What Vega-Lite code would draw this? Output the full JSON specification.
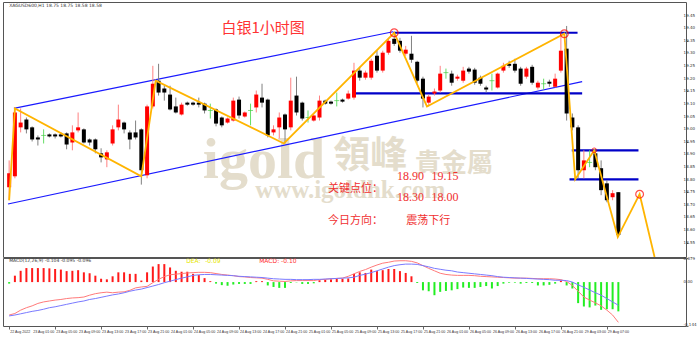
{
 "$schema": "https://vega.github.io/schema/vega-lite/v6.json",
 "padding": {"left": 2, "top": 1, "right": 0, "bottom": 0},
 "background": "white",
 "spacing": 1,
 "bounds": "flush",
 "config": {"view": {"stroke": "#555555", "strokeWidth": 1}, "axis": {"labelFont": "DejaVu Sans", "labelColor": "#333333", "tickColor": "#666666", "domainColor": "#666666", "grid": false}},
 "datasets": {
  "bars": [
{"i":0,"o":18.770,"h":18.876,"l":18.718,"c":18.825,"m":-0.005,"dif":-0.108,"dea":-0.111},
{"i":1,"o":18.813,"h":19.086,"l":18.805,"c":19.066,"m":0.021,"dif":-0.103,"dea":-0.108},
{"i":2,"o":19.007,"h":19.082,"l":18.987,"c":19.026,"m":0.037,"dif":-0.092,"dea":-0.104},
{"i":3,"o":19.038,"h":19.046,"l":18.983,"c":18.999,"m":0.046,"dif":-0.084,"dea":-0.100},
{"i":4,"o":19.007,"h":19.011,"l":18.951,"c":18.959,"m":0.046,"dif":-0.078,"dea":-0.096},
{"i":5,"o":18.967,"h":18.975,"l":18.935,"c":18.959,"m":0.046,"dif":-0.070,"dea":-0.093},
{"i":6,"o":18.975,"h":18.999,"l":18.943,"c":18.975,"m":0.046,"dif":-0.065,"dea":-0.089},
{"i":7,"o":18.979,"h":18.983,"l":18.967,"c":18.971,"m":0.045,"dif":-0.062,"dea":-0.084},
{"i":8,"o":18.979,"h":18.983,"l":18.963,"c":18.971,"m":0.043,"dif":-0.059,"dea":-0.081},
{"i":9,"o":18.979,"h":18.987,"l":18.967,"c":18.971,"m":0.041,"dif":-0.057,"dea":-0.077},
{"i":10,"o":18.983,"h":18.987,"l":18.920,"c":18.939,"m":0.036,"dif":-0.054,"dea":-0.073},
{"i":11,"o":18.947,"h":19.015,"l":18.916,"c":18.987,"m":0.037,"dif":-0.052,"dea":-0.069},
{"i":12,"o":18.995,"h":19.066,"l":18.987,"c":19.007,"m":0.039,"dif":-0.051,"dea":-0.065},
{"i":13,"o":18.999,"h":19.003,"l":18.943,"c":18.947,"m":0.032,"dif":-0.049,"dea":-0.062},
{"i":14,"o":18.959,"h":18.963,"l":18.935,"c":18.947,"m":0.029,"dif":-0.043,"dea":-0.057},
{"i":15,"o":18.959,"h":18.963,"l":18.904,"c":18.920,"m":0.021,"dif":-0.038,"dea":-0.054},
{"i":16,"o":18.904,"h":18.924,"l":18.868,"c":18.888,"m":0.011,"dif":-0.035,"dea":-0.050},
{"i":17,"o":18.880,"h":18.916,"l":18.849,"c":18.908,"m":0.009,"dif":-0.033,"dea":-0.046},
{"i":18,"o":18.943,"h":19.015,"l":18.935,"c":18.999,"m":0.019,"dif":-0.035,"dea":-0.042},
{"i":19,"o":19.007,"h":19.097,"l":18.995,"c":19.038,"m":0.032,"dif":-0.033,"dea":-0.039},
{"i":20,"o":19.026,"h":19.030,"l":18.983,"c":18.999,"m":0.032,"dif":-0.032,"dea":-0.035},
{"i":21,"o":18.987,"h":18.995,"l":18.920,"c":18.959,"m":0.027,"dif":-0.027,"dea":-0.030},
{"i":22,"o":18.987,"h":19.034,"l":18.959,"c":18.967,"m":0.027,"dif":-0.019,"dea":-0.026},
{"i":23,"o":18.999,"h":19.003,"l":18.780,"c":18.837,"m":0.005,"dif":-0.016,"dea":-0.023},
{"i":24,"o":18.817,"h":19.097,"l":18.805,"c":19.090,"m":0.032,"dif":-0.014,"dea":-0.018},
{"i":25,"o":19.090,"h":19.251,"l":19.082,"c":19.180,"m":0.051,"dif":-0.002,"dea":-0.013},
{"i":26,"o":19.192,"h":19.259,"l":19.133,"c":19.145,"m":0.059,"dif":0.009,"dea":-0.008},
{"i":27,"o":19.161,"h":19.172,"l":19.113,"c":19.145,"m":0.059,"dif":0.018,"dea":-0.002},
{"i":28,"o":19.137,"h":19.172,"l":19.074,"c":19.078,"m":0.048,"dif":0.024,"dea":0.003},
{"i":29,"o":19.090,"h":19.125,"l":19.062,"c":19.066,"m":0.037,"dif":0.026,"dea":0.008},
{"i":30,"o":19.058,"h":19.105,"l":19.054,"c":19.097,"m":0.034,"dif":0.028,"dea":0.013},
{"i":31,"o":19.105,"h":19.109,"l":19.093,"c":19.097,"m":0.034,"dif":0.030,"dea":0.017},
{"i":32,"o":19.105,"h":19.109,"l":19.093,"c":19.097,"m":0.027,"dif":0.031,"dea":0.022},
{"i":33,"o":19.105,"h":19.125,"l":19.086,"c":19.097,"m":0.023,"dif":0.032,"dea":0.024},
{"i":34,"o":19.101,"h":19.105,"l":19.062,"c":19.074,"m":0.013,"dif":0.032,"dea":0.025},
{"i":35,"o":19.074,"h":19.101,"l":19.042,"c":19.074,"m":0.003,"dif":0.031,"dea":0.025},
{"i":36,"o":19.078,"h":19.082,"l":19.011,"c":19.022,"m":-0.005,"dif":0.028,"dea":0.024},
{"i":37,"o":19.046,"h":19.050,"l":19.007,"c":19.015,"m":-0.010,"dif":0.025,"dea":0.023},
{"i":38,"o":19.026,"h":19.046,"l":19.022,"c":19.042,"m":-0.012,"dif":0.023,"dea":0.022},
{"i":39,"o":19.034,"h":19.125,"l":19.030,"c":19.113,"m":-0.008,"dif":0.021,"dea":0.021},
{"i":40,"o":19.117,"h":19.129,"l":19.042,"c":19.054,"m":-0.006,"dif":0.018,"dea":0.019},
{"i":41,"o":19.050,"h":19.070,"l":19.046,"c":19.066,"m":-0.006,"dif":0.017,"dea":0.018},
{"i":42,"o":19.074,"h":19.101,"l":19.015,"c":19.074,"m":-0.006,"dif":0.015,"dea":0.017},
{"i":43,"o":19.086,"h":19.153,"l":19.066,"c":19.137,"m":0.003,"dif":0.014,"dea":0.016},
{"i":44,"o":19.125,"h":19.180,"l":19.086,"c":19.105,"m":0.003,"dif":0.013,"dea":0.015},
{"i":45,"o":19.117,"h":19.121,"l":18.967,"c":18.975,"m":-0.011,"dif":0.009,"dea":0.013},
{"i":46,"o":18.987,"h":19.015,"l":18.975,"c":18.999,"m":-0.016,"dif":0.004,"dea":0.011},
{"i":47,"o":19.007,"h":19.066,"l":18.963,"c":19.046,"m":-0.019,"dif":0.003,"dea":0.010},
{"i":48,"o":19.058,"h":19.062,"l":18.943,"c":18.999,"m":-0.019,"dif":0.002,"dea":0.009},
{"i":49,"o":19.007,"h":19.204,"l":18.995,"c":19.113,"m":-0.003,"dif":0.004,"dea":0.009},
{"i":50,"o":19.133,"h":19.208,"l":19.054,"c":19.066,"m":-0.001,"dif":0.005,"dea":0.008},
{"i":51,"o":19.105,"h":19.109,"l":19.034,"c":19.042,"m":-0.006,"dif":0.005,"dea":0.008},
{"i":52,"o":19.046,"h":19.074,"l":19.026,"c":19.046,"m":-0.006,"dif":0.005,"dea":0.008},
{"i":53,"o":19.034,"h":19.058,"l":19.030,"c":19.054,"m":-0.004,"dif":0.005,"dea":0.009},
{"i":54,"o":19.046,"h":19.133,"l":19.034,"c":19.113,"m":0.006,"dif":0.008,"dea":0.009},
{"i":55,"o":19.113,"h":19.117,"l":19.097,"c":19.101,"m":0.008,"dif":0.009,"dea":0.010},
{"i":56,"o":19.109,"h":19.113,"l":19.097,"c":19.101,"m":0.009,"dif":0.011,"dea":0.011},
{"i":57,"o":19.113,"h":19.145,"l":19.090,"c":19.113,"m":0.011,"dif":0.012,"dea":0.012},
{"i":58,"o":19.117,"h":19.121,"l":19.105,"c":19.109,"m":0.011,"dif":0.013,"dea":0.013},
{"i":59,"o":19.121,"h":19.153,"l":19.117,"c":19.141,"m":0.012,"dif":0.019,"dea":0.014},
{"i":60,"o":19.125,"h":19.263,"l":19.117,"c":19.232,"m":0.027,"dif":0.027,"dea":0.016},
{"i":61,"o":19.232,"h":19.247,"l":19.192,"c":19.204,"m":0.032,"dif":0.035,"dea":0.022},
{"i":62,"o":19.204,"h":19.232,"l":19.196,"c":19.224,"m":0.030,"dif":0.041,"dea":0.026},
{"i":63,"o":19.204,"h":19.279,"l":19.196,"c":19.271,"m":0.041,"dif":0.049,"dea":0.031},
{"i":64,"o":19.291,"h":19.311,"l":19.224,"c":19.232,"m":0.036,"dif":0.056,"dea":0.037},
{"i":65,"o":19.232,"h":19.311,"l":19.224,"c":19.303,"m":0.039,"dif":0.062,"dea":0.043},
{"i":66,"o":19.303,"h":19.362,"l":19.295,"c":19.350,"m":0.043,"dif":0.065,"dea":0.049},
{"i":67,"o":19.358,"h":19.382,"l":19.330,"c":19.338,"m":0.043,"dif":0.069,"dea":0.054},
{"i":68,"o":19.350,"h":19.362,"l":19.303,"c":19.311,"m":0.036,"dif":0.070,"dea":0.057},
{"i":69,"o":19.299,"h":19.330,"l":19.291,"c":19.315,"m":0.030,"dif":0.070,"dea":0.059},
{"i":70,"o":19.299,"h":19.370,"l":19.263,"c":19.275,"m":0.019,"dif":0.068,"dea":0.059},
{"i":71,"o":19.267,"h":19.271,"l":19.184,"c":19.192,"m":-0.003,"dif":0.063,"dea":0.058},
{"i":72,"o":19.200,"h":19.208,"l":19.086,"c":19.121,"m":-0.027,"dif":0.054,"dea":0.054},
{"i":73,"o":19.105,"h":19.137,"l":19.090,"c":19.129,"m":-0.030,"dif":0.045,"dea":0.050},
{"i":74,"o":19.141,"h":19.161,"l":19.133,"c":19.149,"m":-0.043,"dif":0.037,"dea":0.045},
{"i":75,"o":19.153,"h":19.251,"l":19.145,"c":19.220,"m":-0.032,"dif":0.029,"dea":0.042},
{"i":76,"o":19.224,"h":19.240,"l":19.200,"c":19.224,"m":-0.029,"dif":0.025,"dea":0.039},
{"i":77,"o":19.220,"h":19.232,"l":19.172,"c":19.184,"m":-0.027,"dif":0.023,"dea":0.037},
{"i":78,"o":19.200,"h":19.216,"l":19.192,"c":19.208,"m":-0.023,"dif":0.022,"dea":0.033},
{"i":79,"o":19.192,"h":19.247,"l":19.184,"c":19.232,"m":-0.018,"dif":0.022,"dea":0.031},
{"i":80,"o":19.240,"h":19.247,"l":19.220,"c":19.228,"m":-0.019,"dif":0.022,"dea":0.029},
{"i":81,"o":19.236,"h":19.243,"l":19.176,"c":19.184,"m":-0.019,"dif":0.021,"dea":0.027},
{"i":82,"o":19.204,"h":19.212,"l":19.172,"c":19.180,"m":-0.016,"dif":0.019,"dea":0.025},
{"i":83,"o":19.165,"h":19.172,"l":19.145,"c":19.157,"m":-0.013,"dif":0.018,"dea":0.023},
{"i":84,"o":19.192,"h":19.220,"l":19.153,"c":19.192,"m":-0.021,"dif":0.017,"dea":0.021},
{"i":85,"o":19.165,"h":19.224,"l":19.161,"c":19.220,"m":-0.013,"dif":0.016,"dea":0.018},
{"i":86,"o":19.232,"h":19.263,"l":19.224,"c":19.251,"m":-0.005,"dif":0.015,"dea":0.016},
{"i":87,"o":19.259,"h":19.271,"l":19.243,"c":19.251,"m":-0.002,"dif":0.014,"dea":0.015},
{"i":88,"o":19.259,"h":19.279,"l":19.224,"c":19.232,"m":-0.002,"dif":0.013,"dea":0.014},
{"i":89,"o":19.240,"h":19.247,"l":19.172,"c":19.180,"m":-0.005,"dif":0.013,"dea":0.013},
{"i":90,"o":19.208,"h":19.247,"l":19.200,"c":19.240,"m":-0.003,"dif":0.013,"dea":0.012},
{"i":91,"o":19.247,"h":19.255,"l":19.176,"c":19.184,"m":-0.003,"dif":0.012,"dea":0.011},
{"i":92,"o":19.165,"h":19.192,"l":19.157,"c":19.184,"m":-0.011,"dif":0.011,"dea":0.010},
{"i":93,"o":19.180,"h":19.200,"l":19.157,"c":19.180,"m":-0.011,"dif":0.011,"dea":0.009},
{"i":94,"o":19.188,"h":19.196,"l":19.168,"c":19.180,"m":-0.009,"dif":0.011,"dea":0.008},
{"i":95,"o":19.168,"h":19.220,"l":19.165,"c":19.200,"m":-0.005,"dif":0.010,"dea":0.006},
{"i":96,"o":19.232,"h":19.378,"l":19.224,"c":19.311,"m":0.005,"dif":0.008,"dea":0.006},
{"i":97,"o":19.319,"h":19.409,"l":19.034,"c":19.062,"m":-0.011,"dif":0.002,"dea":0.005},
{"i":98,"o":19.046,"h":19.062,"l":18.995,"c":19.007,"m":-0.021,"dif":-0.011,"dea":0.000},
{"i":99,"o":19.007,"h":19.015,"l":18.805,"c":18.837,"m":-0.069,"dif":-0.030,"dea":-0.009},
{"i":100,"o":18.837,"h":18.916,"l":18.805,"c":18.876,"m":-0.080,"dif":-0.049,"dea":-0.017},
{"i":101,"o":18.868,"h":18.916,"l":18.849,"c":18.868,"m":-0.083,"dif":-0.059,"dea":-0.026},
{"i":102,"o":18.904,"h":18.916,"l":18.837,"c":18.849,"m":-0.077,"dif":-0.068,"dea":-0.035},
{"i":103,"o":18.845,"h":18.876,"l":18.738,"c":18.758,"m":-0.091,"dif":-0.078,"dea":-0.043},
{"i":104,"o":18.785,"h":18.797,"l":18.710,"c":18.718,"m":-0.089,"dif":-0.092,"dea":-0.054},
{"i":105,"o":18.730,"h":18.758,"l":18.718,"c":18.746,"m":-0.089,"dif":-0.108,"dea":-0.065},
{"i":106,"o":18.750,"h":18.750,"l":18.572,"c":18.580,"m":-0.096,"dif":-0.132,"dea":-0.076}
  ],
  "thin": [
   {"id":"up","i":0.82,"p":19.082},{"id":"up","i":66.8,"p":19.386},
   {"id":"lo","i":-0.2,"p":18.703},{"id":"lo","i":99.7,"p":19.188}
  ],
  "thick": [
   {"id":"a","i":66.8,"p":19.382},{"id":"a","i":98.9,"p":19.382},
   {"id":"b","i":60.1,"p":19.142},{"id":"b","i":99.7,"p":19.142},
   {"id":"c","i":97.9,"p":18.916},{"id":"c","i":109.5,"p":18.916},
   {"id":"d","i":97.5,"p":18.801},{"id":"d","i":109.5,"p":18.801}
  ],
  "zig": [
   {"k":0,"i":0,"p":18.718},{"k":1,"i":1,"p":19.082},{"k":2,"i":23,"p":18.813},{"k":3,"i":25.5,"p":19.192},
   {"k":4,"i":47.8,"p":18.943},{"k":5,"i":67,"p":19.382},{"k":6,"i":72.7,"p":19.090},{"k":7,"i":96.6,"p":19.378},
   {"k":8,"i":98.5,"p":18.801},{"k":9,"i":101.8,"p":18.916},{"k":10,"i":105.9,"p":18.572},{"k":11,"i":109.7,"p":18.742},
   {"k":12,"i":112.3,"p":18.493}
  ],
  "ylab": [
   {"i":117.35,"p":18.55,"t":"18.55"},{"i":117.35,"p":18.60,"t":"18.60"},{"i":117.35,"p":18.65,"t":"18.65"},{"i":117.35,"p":18.70,"t":"18.70"},
   {"i":117.35,"p":18.75,"t":"18.75"},{"i":117.35,"p":18.80,"t":"18.80"},{"i":117.35,"p":18.85,"t":"18.85"},{"i":117.35,"p":18.90,"t":"18.90"},
   {"i":117.35,"p":18.95,"t":"18.95"},{"i":117.35,"p":19.00,"t":"19.00"},{"i":117.35,"p":19.05,"t":"19.05"},{"i":117.35,"p":19.10,"t":"19.10"},
   {"i":117.35,"p":19.15,"t":"19.15"},{"i":117.35,"p":19.20,"t":"19.20"},{"i":117.35,"p":19.25,"t":"19.25"},{"i":117.35,"p":19.30,"t":"19.30"},
   {"i":117.35,"p":19.35,"t":"19.35"},{"i":117.35,"p":19.40,"t":"19.40"},{"i":117.35,"p":19.45,"t":"19.45"}
  ],
  "mlab": [
   {"i":117.35,"v":0.077,"t":"0.079"},{"i":117.35,"v":0,"t":"0.00"},{"i":117.35,"v":-0.141,"t":"-0.144"}
  ],
  "xlab": [
   {"i":0,"t":"22 Aug 2022"},{"i":4,"t":"23 Aug 01:00"},{"i":8,"t":"23 Aug 05:00"},{"i":12,"t":"23 Aug 09:00"},
   {"i":16,"t":"23 Aug 13:00"},{"i":20,"t":"23 Aug 17:00"},{"i":24,"t":"23 Aug 21:00"},{"i":28,"t":"24 Aug 01:00"},
   {"i":32,"t":"24 Aug 05:00"},{"i":36,"t":"24 Aug 09:00"},{"i":40,"t":"24 Aug 13:00"},{"i":44,"t":"24 Aug 17:00"},
   {"i":48,"t":"24 Aug 21:00"},{"i":52,"t":"25 Aug 01:00"},{"i":56,"t":"25 Aug 05:00"},{"i":60,"t":"25 Aug 09:00"},
   {"i":64,"t":"25 Aug 13:00"},{"i":68,"t":"25 Aug 17:00"},{"i":72,"t":"25 Aug 21:00"},{"i":76,"t":"26 Aug 01:00"},
   {"i":80,"t":"26 Aug 05:00"},{"i":84,"t":"26 Aug 09:00"},{"i":88,"t":"26 Aug 13:00"},{"i":92,"t":"26 Aug 17:00"},
   {"i":96,"t":"26 Aug 21:00"},{"i":100,"t":"29 Aug 03:00"},{"i":104,"t":"29 Aug 07:00"}
  ]
 },
 "vconcat": [
  {
   "width": 683,
   "height": 255,
   "encoding": {"x": {"field": "i", "type": "quantitative", "scale": {"domain": [-0.2, 116.9], "nice": false, "zero": false}, "axis": null}},
   "layer": [
    {"data": {"values": [{"i": 33.7, "p": 18.805, "t": "igold"}]},
     "mark": {"type": "text", "align": "left", "baseline": "alphabetic", "font": "Liberation Serif", "fontWeight": "bold", "fontSize": 58, "color": "#e4ddcc"},
     "encoding": {"y": {"field": "p", "type": "quantitative", "scale": {"domain": [18.493, 19.504], "nice": false, "zero": false}, "title": null}, "text": {"field": "t"}}},
    {"data": {"values": [{"i": 56.4, "p": 18.888, "t": "領峰"}]},
     "mark": {"type": "text", "align": "left", "baseline": "middle", "font": "Noto Sans CJK TC", "fontWeight": "bold", "fontSize": 37, "color": "#e4ddcc"},
     "encoding": {"y": {"field": "p", "type": "quantitative", "scale": {"domain": [18.493, 19.504], "nice": false, "zero": false}, "title": null}, "text": {"field": "t"}}},
    {"data": {"values": [{"i": 70.6, "p": 18.861, "t": "貴金屬"}]},
     "mark": {"type": "text", "align": "left", "baseline": "middle", "font": "Noto Sans CJK TC", "fontWeight": "bold", "fontSize": 26, "color": "#e4ddcc"},
     "encoding": {"y": {"field": "p", "type": "quantitative", "scale": {"domain": [18.493, 19.504], "nice": false, "zero": false}, "title": null}, "text": {"field": "t"}}},
    {"data": {"values": [{"i": 42.8, "p": 18.758, "t": "www.igoldhk.com"}]},
     "mark": {"type": "text", "align": "left", "baseline": "middle", "font": "Liberation Serif", "fontWeight": "bold", "fontSize": 25, "color": "#e4ddcc"},
     "encoding": {"y": {"field": "p", "type": "quantitative", "scale": {"domain": [18.493, 19.504], "nice": false, "zero": false}, "title": null}, "text": {"field": "t"}}},
    {"data": {"name": "thin"},
     "mark": {"type": "line", "color": "#1a1aff", "strokeWidth": 1.2, "clip": true},
     "encoding": {"y": {"field": "p", "type": "quantitative", "scale": {"domain": [18.493, 19.504], "nice": false, "zero": false}, "title": null}, "detail": {"field": "id"}}},
    {"data": {"name": "thick"},
     "mark": {"type": "line", "color": "#0000c8", "strokeWidth": 2.2, "clip": true},
     "encoding": {"y": {"field": "p", "type": "quantitative", "scale": {"domain": [18.493, 19.504], "nice": false, "zero": false}, "title": null}, "detail": {"field": "id"}}},
    {"data": {"name": "bars"},
     "mark": {"type": "rule", "strokeWidth": 1},
     "encoding": {
      "y": {"field": "l", "type": "quantitative", "scale": {"domain": [18.493, 19.504], "nice": false, "zero": false}, "title": null,
            "axis": {"orient": "right", "title": null, "values": [18.55,18.6,18.65,18.7,18.75,18.8,18.85,18.9,18.95,19,19.05,19.1,19.15,19.2,19.25,19.3,19.35,19.4,19.45], "labels": false, "tickSize": 2, "domain": false}},
      "y2": {"field": "h"},
      "color": {"condition": [{"test": "datum.c == datum.o", "value": "#66dd66"}, {"test": "datum.c > datum.o", "value": "#ff8080"}], "value": "#808080"}
     }},
    {"data": {"name": "bars"},
     "transform": [{"filter": "datum.c != datum.o"}],
     "mark": {"type": "bar", "width": 4},
     "encoding": {
      "y": {"field": "o", "type": "quantitative", "scale": {"domain": [18.493, 19.504], "nice": false, "zero": false}, "title": null},
      "y2": {"field": "c"},
      "color": {"condition": {"test": "datum.c > datum.o", "value": "#ff0000"}, "value": "#000000"}
     }},
    {"data": {"name": "bars"},
     "transform": [{"filter": "datum.c == datum.o"}],
     "mark": {"type": "tick", "orient": "horizontal", "size": 5, "thickness": 1, "color": "#44cc44"},
     "encoding": {"y": {"field": "c", "type": "quantitative", "scale": {"domain": [18.493, 19.504], "nice": false, "zero": false}, "title": null}}},
    {"data": {"name": "zig"},
     "mark": {"type": "line", "color": "#ffb400", "strokeWidth": 1.8, "clip": true},
     "encoding": {"y": {"field": "p", "type": "quantitative", "scale": {"domain": [18.493, 19.504], "nice": false, "zero": false}, "title": null}, "order": {"field": "k"}}},
    {"data": {"values": [{"i": 67, "p": 19.382}, {"i": 96.6, "p": 19.378}, {"i": 109.7, "p": 18.742}]},
     "mark": {"type": "point", "shape": "circle", "filled": false, "color": "#ff0000", "strokeWidth": 1.2, "size": 60},
     "encoding": {"y": {"field": "p", "type": "quantitative", "scale": {"domain": [18.493, 19.504], "nice": false, "zero": false}, "title": null}}},
    {"data": {"values": [{"i": 101.8, "p": 18.916}]},
     "mark": {"type": "point", "shape": "circle", "filled": false, "color": "#ff0000", "strokeWidth": 1, "size": 22},
     "encoding": {"y": {"field": "p", "type": "quantitative", "scale": {"domain": [18.493, 19.504], "nice": false, "zero": false}, "title": null}}},
    {"data": {"values": [{"i": 44.2, "p": 19.40, "t": "白银1小时图"}]},
     "mark": {"type": "text", "align": "center", "baseline": "middle", "font": "Noto Sans CJK SC", "fontSize": 15, "color": "#ff3333"},
     "encoding": {"y": {"field": "p", "type": "quantitative", "scale": {"domain": [18.493, 19.504], "nice": false, "zero": false}, "title": null}, "text": {"field": "t"}}},
    {"data": {"values": [{"i": 55.5, "p": 18.764, "t": "关键点位："}, {"i": 55.5, "p": 18.637, "t": "今日方向："}, {"i": 69.1, "p": 18.637, "t": "震荡下行"}]},
     "mark": {"type": "text", "align": "left", "baseline": "middle", "font": "Noto Sans CJK SC", "fontSize": 11, "color": "#f03030"},
     "encoding": {"y": {"field": "p", "type": "quantitative", "scale": {"domain": [18.493, 19.504], "nice": false, "zero": false}, "title": null}, "text": {"field": "t"}}},
    {"data": {"values": [{"i": 67.5, "p": 18.815, "t": "18.90"}, {"i": 73.5, "p": 18.815, "t": "19.15"}, {"i": 67.5, "p": 18.732, "t": "18.30"}, {"i": 73.5, "p": 18.732, "t": "18.00"}]},
     "mark": {"type": "text", "align": "left", "baseline": "middle", "font": "Liberation Serif", "fontSize": 12, "color": "#f03030"},
     "encoding": {"y": {"field": "p", "type": "quantitative", "scale": {"domain": [18.493, 19.504], "nice": false, "zero": false}, "title": null}, "text": {"field": "t"}}},
    {"data": {"values": [{"i": 0, "p": 19.488, "t": "XAGUSD600,H1  18.75 18.75 18.58 18.58"}]},
     "mark": {"type": "text", "align": "left", "baseline": "middle", "font": "DejaVu Sans", "fontSize": 4.5, "color": "#333333"},
     "encoding": {"y": {"field": "p", "type": "quantitative", "scale": {"domain": [18.493, 19.504], "nice": false, "zero": false}, "title": null}, "text": {"field": "t"}}},
    {"data": {"name": "ylab"},
     "mark": {"type": "text", "align": "left", "baseline": "middle", "font": "DejaVu Sans", "fontSize": 4, "color": "#333333", "clip": false},
     "encoding": {"y": {"field": "p", "type": "quantitative", "scale": {"domain": [18.493, 19.504], "nice": false, "zero": false}, "title": null}, "text": {"field": "t"}}}
   ]
  },
  {
   "width": 683,
   "height": 68,
   "layer": [
    {"data": {"name": "bars"},
     "mark": {"type": "bar", "width": 2},
     "encoding": {
      "x": {"field": "i", "type": "quantitative", "scale": {"domain": [-0.2, 116.9], "nice": false, "zero": false}, "title": null,
            "axis": {"title": null, "values": [0,4,8,12,16,20,24,28,32,36,40,44,48,52,56,60,64,68,72,76,80,84,88,92,96,100,104], "labels": false, "tickSize": 3, "domain": false}},
      "y": {"field": "m", "type": "quantitative", "scale": {"domain": [-0.144, 0.079], "nice": false, "zero": false}, "title": null,
            "axis": {"orient": "right", "title": null, "values": [0.079, 0, -0.144], "labels": false, "tickSize": 2, "domain": false}},
      "y2": {"datum": 0},
      "color": {"condition": {"test": "datum.m > 0", "value": "#ff1a1a"}, "value": "#22ee22"}
     }},
    {"data": {"name": "bars"},
     "mark": {"type": "line", "color": "#ff7a7a", "strokeWidth": 1, "clip": true},
     "encoding": {
      "x": {"field": "i", "type": "quantitative", "scale": {"domain": [-0.2, 116.9], "nice": false, "zero": false}, "title": null},
      "y": {"field": "dif", "type": "quantitative", "scale": {"domain": [-0.144, 0.079], "nice": false, "zero": false}, "title": null}
     }},
    {"data": {"name": "bars"},
     "mark": {"type": "line", "color": "#7a7aff", "strokeWidth": 1, "clip": true},
     "encoding": {
      "x": {"field": "i", "type": "quantitative", "scale": {"domain": [-0.2, 116.9], "nice": false, "zero": false}, "title": null},
      "y": {"field": "dea", "type": "quantitative", "scale": {"domain": [-0.144, 0.079], "nice": false, "zero": false}, "title": null}
     }},
    {"data": {"values": [{"i": 0, "v": 0.069, "t": "MACD(12,26,9) -0.104 -0.095 -0.096"}]},
     "mark": {"type": "text", "align": "left", "baseline": "middle", "font": "DejaVu Sans", "fontSize": 4.5, "color": "#333333"},
     "encoding": {
      "x": {"field": "i", "type": "quantitative", "scale": {"domain": [-0.2, 116.9], "nice": false, "zero": false}, "title": null},
      "y": {"field": "v", "type": "quantitative", "scale": {"domain": [-0.144, 0.079], "nice": false, "zero": false}, "title": null},
      "text": {"field": "t"}}},
    {"data": {"values": [{"i": 30.8, "v": 0.069, "t": "DEA:"}, {"i": 34.1, "v": 0.069, "t": "-0.09"}]},
     "mark": {"type": "text", "align": "left", "baseline": "middle", "font": "DejaVu Sans", "fontSize": 6, "color": "#e6e600"},
     "encoding": {
      "x": {"field": "i", "type": "quantitative", "scale": {"domain": [-0.2, 116.9], "nice": false, "zero": false}, "title": null},
      "y": {"field": "v", "type": "quantitative", "scale": {"domain": [-0.144, 0.079], "nice": false, "zero": false}, "title": null},
      "text": {"field": "t"}}},
    {"data": {"values": [{"i": 43.5, "v": 0.069, "t": "MACD:"}, {"i": 47.3, "v": 0.069, "t": "-0.10"}]},
     "mark": {"type": "text", "align": "left", "baseline": "middle", "font": "DejaVu Sans", "fontSize": 6, "color": "#ff3333"},
     "encoding": {
      "x": {"field": "i", "type": "quantitative", "scale": {"domain": [-0.2, 116.9], "nice": false, "zero": false}, "title": null},
      "y": {"field": "v", "type": "quantitative", "scale": {"domain": [-0.144, 0.079], "nice": false, "zero": false}, "title": null},
      "text": {"field": "t"}}},
    {"data": {"name": "mlab"},
     "mark": {"type": "text", "align": "left", "baseline": "middle", "font": "DejaVu Sans", "fontSize": 4, "color": "#333333", "clip": false},
     "encoding": {
      "x": {"field": "i", "type": "quantitative", "scale": {"domain": [-0.2, 116.9], "nice": false, "zero": false}, "title": null},
      "y": {"field": "v", "type": "quantitative", "scale": {"domain": [-0.144, 0.079], "nice": false, "zero": false}, "title": null},
      "text": {"field": "t"}}},
    {"data": {"name": "xlab"},
     "mark": {"type": "text", "align": "left", "baseline": "middle", "dx": 1, "font": "Liberation Sans", "fontSize": 3.6, "color": "#333333", "clip": false},
     "encoding": {
      "x": {"field": "i", "type": "quantitative", "scale": {"domain": [-0.2, 116.9], "nice": false, "zero": false}, "title": null},
      "y": {"datum": -0.163, "type": "quantitative", "scale": {"domain": [-0.144, 0.079], "nice": false, "zero": false}, "title": null},
      "text": {"field": "t"}}}
   ]
  }
 ]
}
